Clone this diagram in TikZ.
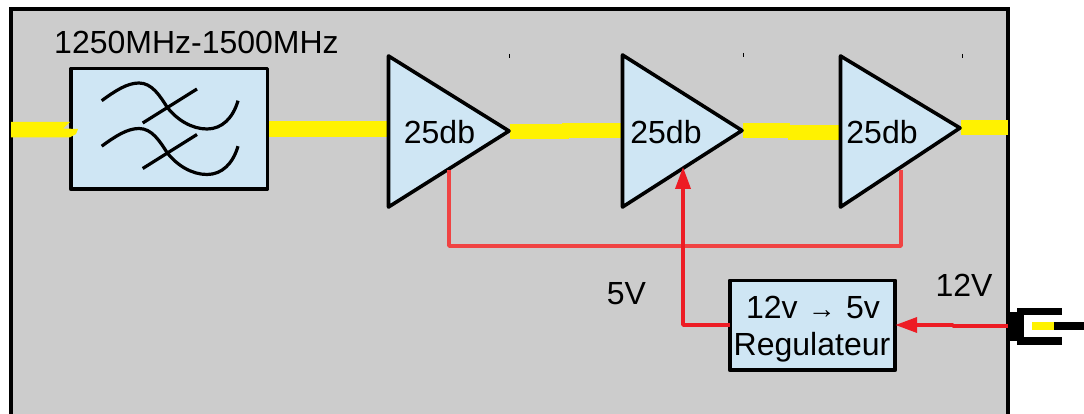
\documentclass[tikz,border=0pt]{standalone}
\usepackage{fontspec}
\setmainfont{Liberation Sans}
\usetikzlibrary{arrows.meta}
\definecolor{panel}{HTML}{CCCCCC}
\definecolor{pale}{HTML}{CFE6F4}
\definecolor{rfy}{HTML}{FFF200}
\definecolor{redA}{HTML}{ED1C24}
\definecolor{redB}{HTML}{F04343}
\tikzset{
  blockbox/.style={draw=black,fill=pale,line width=3.6pt,line join=round,inner sep=0pt,outer sep=0pt},
  tri/.style={draw=black,fill=pale,line width=3.6pt,line join=round},
  supply/.style={draw=redB,line width=3.4pt,line join=round},
  feed/.style={draw=redA,line width=3.6pt,line join=round,-{Triangle[length=22pt,width=15pt]}},
  curve/.style={draw=black,line width=3.2pt},
  lab/.style={font=\fontsize{32pt}{37pt}\selectfont,text=black,inner sep=0pt,outer sep=0pt,align=center}
}
\begin{document}
\begin{tikzpicture}[x=1pt,y=-1pt]
\useasboundingbox (0,0) rectangle (1084,414);
\fill[white] (0,0) rectangle (1084,414);
% panel
\fill[panel] (11,9) rectangle (1008,414);
\draw[black,line width=4pt,line join=miter] (11,416) -- (11,9) -- (1008,9) -- (1008,416);
% yellow RF path
\fill[rfy] (268,121) rectangle (389,136.7);
\fill[rfy] (510,124.3) rectangle (569,139.3);
\fill[rfy] (562,123.5) rectangle (622,138.5);
\fill[rfy] (743,123) rectangle (790,138);
\fill[rfy] (788,125) rectangle (840,140);
\fill[rfy] (961,120.5) rectangle (1008,135.5);
% filter
\node[blockbox,minimum width=196.5pt,minimum height=120.7pt] (filter) at (169.1,128.85) {};
\fill[rfy] (11,122) -- (70,122) -- (63,128.5) -- (78,129) -- (76,134) -- (70,137.3) -- (11,137.3) -- cycle;
\node[lab,anchor=base] (band) at (196.5,54) {1250MHz-1500MHz};
\foreach \dy in {0,45.5}{
  \draw[curve,yshift=-\dy*1pt] (101.7,100.7) .. controls (115,91) and (127,83) .. (139,83)
     .. controls (152,83) and (160,96) .. (167,107)
     .. controls (177,120) and (192,129) .. (207,129)
     .. controls (222,129) and (233,118) .. (238,100.7);
  \draw[curve,yshift=-\dy*1pt] (142.7,123) -- (197,89);
}
% amplifiers
\coordinate (a1t) at (388.5,56); \coordinate (a1b) at (388.5,207); \coordinate (a1o) at (509,131);
\coordinate (a2t) at (622.5,55); \coordinate (a2b) at (622.5,207); \coordinate (a2o) at (742,130.5);
\coordinate (a3t) at (840.5,56); \coordinate (a3b) at (840.5,207); \coordinate (a3o) at (960,128);
\draw[tri] (a1t) -- (a1o) -- (a1b) -- cycle;
\draw[tri] (a2t) -- (a2o) -- (a2b) -- cycle;
\draw[tri] (a3t) -- (a3o) -- (a3b) -- cycle;
\node[lab,anchor=base] (g1) at (439.5,144) {25db};
\node[lab,anchor=base] (g2) at (666,144) {25db};
\node[lab,anchor=base] (g3) at (882,144) {25db};
% tiny ticks
\draw[black,line width=1pt] (509.5,54) -- (509.5,58);
\draw[black,line width=1pt] (743.5,53) -- (743.5,57);
\draw[black,line width=1pt] (962,54) -- (962,58);
% regulator
\node[blockbox,minimum width=165.4pt,minimum height=89.7pt] (reg) at (812.5,325.3) {};
\node[lab,anchor=base] (regA) at (813,318) {12v\hspace{10.3pt}{\fontsize{28pt}{28pt}\selectfont →}\hspace{10.3pt}5v};
\node[lab,anchor=base] (regB) at (812,355) {Regulateur};
% supply lines
\coordinate (s1) at (449,170);
\coordinate (s2) at (901,170);
\coordinate (s3) at (683,167);
\coordinate (jack) at (1008,326);
\draw[supply] (s1) -- (449,246) -- (901,246) -- (s2);
\draw[feed] (reg.west |- 0,325) -- (683,325) -- (s3);
\draw[feed] (jack) -- (953,326) -- (953,325) -- (reg.east |- 0,325);
\node[lab,anchor=base] (v5) at (626.5,304) {5V};
\node[lab,anchor=base] (v12) at (964,296) {12V};
% jack
\fill[black] (1008,312) rectangle (1024,341);
\fill[black] (1017,307.7) rectangle (1062,315);
\fill[black] (1017,337) rectangle (1062,345);
\fill[rfy] (1032,322) rectangle (1054,330);
\fill[black] (1054,322) rectangle (1084,330);
\end{tikzpicture}
\end{document}
